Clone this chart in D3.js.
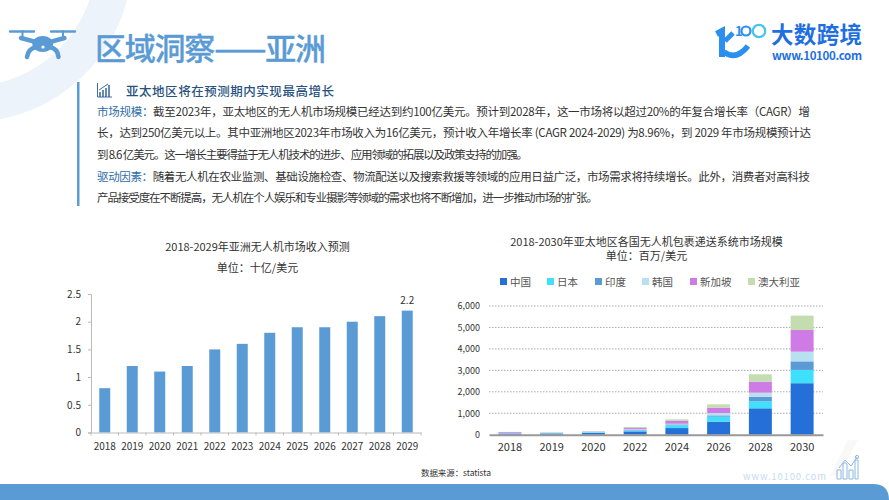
<!DOCTYPE html>
<html><head><meta charset="utf-8">
<script src="https://cdn.jsdelivr.net/npm/d3@7"></script>
<style>html,body{margin:0;padding:0;background:#fff;overflow:hidden}svg{display:block}text{font-family:"Noto Sans CJK SC","Noto Sans",sans-serif}</style>
</head><body><svg id="c" width="889" height="500"></svg>
<script>
const pageTitle = "区域洞察——亚洲";
const heading = "亚太地区将在预测期内实现最高增长";
const bodyLines = [
 [["市场规模：",1],["截至2023年，亚太地区的无人机市场规模已经达到约100亿美元。预计到2028年，这一市场将以超过20%的年复合增长率（CAGR）增",0]],
 [["长，达到250亿美元以上。其中亚洲地区2023年市场收入为16亿美元，预计收入年增长率 (CAGR 2024-2029) 为8.96%，到 2029 年市场规模预计达",0]],
 [["到 8.6 亿美元。这一增长主要得益于无人机技术的进步、应用领域的拓展以及政策支持的加强。",0]],
 [["驱动因素：",1],["随着无人机在农业监测、基础设施检查、物流配送以及搜索救援等领域的应用日益广泛，市场需求将持续增长。此外，消费者对高科技",0]],
 [["产品接受度在不断提高，无人机在个人娱乐和专业摄影等领域的需求也将不断增加，进一步推动市场的扩张。",0]]
];
const bodyWidths = [713, 714, 431, 713, 501];
const leftTitle = "2018-2029年亚洲无人机市场收入预测";
const leftUnit = "单位：十亿/美元";
const leftYears = ["2018","2019","2020","2021","2022","2023","2024","2025","2026","2027","2028","2029"];
const leftValues = [0.8,1.2,1.1,1.2,1.5,1.6,1.8,1.9,1.9,2.0,2.1,2.2];
const leftTicks = [0,0.5,1,1.5,2,2.5];
const rightTitle = "2018-2030年亚太地区各国无人机包裹递送系统市场规模";
const rightUnit = "单位：百万/美元";
const rightYears = ["2018","2019","2020","2022","2024","2026","2028","2030"];
const countries = ["中国","日本","印度","韩国","新加坡","澳大利亚"];
const china = [50,50,80,155,310,610,1230,2400];
const japan = [10,20,30,45,125,230,325,620];
const india = [10,10,5,20,45,60,215,400];
const korea = [10,15,25,30,30,110,190,450];
const singapore = [40,10,15,60,130,250,510,1010];
const australia = [10,10,15,50,75,155,345,670];
const rightTicks = [0,1000,2000,3000,4000,5000,6000];
const countryColors = ["#2470d8","#3fe0fb","#5b9bd5","#b9e0f0","#cf7be6","#c3dcb0"];
const source = "数据来源：statista";

const BLUE="#5b9bd5", INK="#333";
const svg=d3.select("#c");

// background decoration
svg.append("path").attr("fill","#edf3fa").attr("d",(()=>{
  const p=d3.path(); p.arc(-30,-40,162,0,Math.PI/2); p.arc(-30,-40,126,Math.PI/2,0,true); p.closePath(); return p.toString();
})());
svg.append("path").attr("fill","#f9f8f7").attr("d","M848 440H858L838 476H830Z");
svg.append("path").attr("fill",BLUE).attr("d","M0 484H873Q889 484 889 500H0Z");

// drone icon
const drone=svg.append("g").attr("fill","none").attr("stroke",BLUE).attr("stroke-linecap","round");
drone.append("path").attr("stroke-width",2.4).attr("d","M10 31.5H34M51 31.5H75");
drone.append("path").attr("stroke-width",2).attr("d","M22.5 31V37M63 31V37");
drone.append("path").attr("stroke-width",4.5).attr("d","M21 38L43 44L64.5 38");
drone.append("path").attr("stroke-width",4.5).attr("d","M36 47Q28 49 27 57M50 47Q58 49 58.5 57");
drone.append("ellipse").attr("cx",42.7).attr("cy",44).attr("rx",10.5).attr("ry",8).attr("fill",BLUE).attr("stroke","none");
drone.append("circle").attr("cx",43).attr("cy",47).attr("r",1.6).attr("fill","#fff").attr("stroke","none");

// page title
svg.append("text").attr("x",95).attr("y",60).attr("font-size",31).attr("font-weight",500).attr("fill",BLUE)
  .attr("stroke",BLUE).attr("stroke-width",0.3)
  .attr("textLength",231).attr("lengthAdjust","spacing").text(pageTitle);

// logo
const logo=svg.append("g").attr("fill","none");
logo.append("path").attr("stroke","#2b8ff0").attr("stroke-width",6).attr("d","M716.5 34L722 31V57");
logo.append("path").attr("stroke","#2b8ff0").attr("stroke-width",5).attr("d","M725 41L733 33");
logo.append("path").attr("stroke","#2b8ff0").attr("stroke-width",5.5).attr("d","M724 52Q736 61 748 46");
logo.append("text").attr("x",735).attr("y",36).attr("font-size",13).attr("font-weight",700).attr("fill","#2b8ff0").text("1");
logo.append("circle").attr("cx",746).attr("cy",31).attr("r",4.5).attr("stroke","#2b8ff0").attr("stroke-width",2.2);
logo.append("circle").attr("cx",759).attr("cy",31).attr("r",6.2).attr("stroke","#45c5ee").attr("stroke-width",2.2);
logo.append("text").attr("x",771).attr("y",43).attr("font-size",22.5).attr("font-weight",700).attr("fill","#1f6fe0")
  .attr("textLength",91).attr("lengthAdjust","spacing").text("大数跨境");
logo.append("text").attr("x",772).attr("y",60).attr("font-size",11.5).attr("font-weight",700).attr("fill","#1f6fe0")
  .attr("textLength",90).attr("lengthAdjust","spacing").text("www.10100.com");

// text block
svg.append("rect").attr("x",77).attr("y",82).attr("width",2.5).attr("height",124).attr("fill",BLUE);
const hi=svg.append("g").attr("fill","none").attr("stroke","#3f6f9f").attr("stroke-width",1);
hi.append("path").attr("d","M97.5 83V97H112");
hi.append("path").attr("stroke-width",1.6).attr("d","M100 97V92M103 97V90M106 97V88M109 97V85");
hi.append("path").attr("d","M99 90L108 84");
svg.append("text").attr("x",126).attr("y",96).attr("font-size",12.5).attr("font-weight",500).attr("fill","#27527f")
  .attr("textLength",208).attr("lengthAdjust","spacing").text(heading);
const lineY=[116,137,159,181,202];
bodyLines.forEach((runs,i)=>{
  const t=svg.append("text").attr("x",97).attr("y",lineY[i]).attr("font-size",11.5).attr("fill",INK)
    .attr("textLength",bodyWidths[i]).attr("lengthAdjust","spacing");
  runs.forEach(r=>t.append("tspan").attr("fill",r[1]?"#2f6ea8":INK).text(r[0]));
});

// left chart
const L={x0:91,x1:421,y0:432.5,y1:294};
const lx=d3.scaleBand().domain(leftYears).range([L.x0,L.x1]).paddingInner(0.6).paddingOuter(0.3);
const ly=d3.scaleLinear().domain([0,2.5]).range([L.y0,L.y1]);
svg.append("text").attr("x",257.5).attr("y",251).attr("text-anchor","middle").attr("font-size",11).attr("fill",INK).text(leftTitle);
svg.append("text").attr("x",257.5).attr("y",272).attr("text-anchor","middle").attr("font-size",11).attr("fill",INK).text(leftUnit);
svg.append("g").selectAll("rect").data(leftValues).join("rect")
  .attr("x",(d,i)=>lx(leftYears[i])).attr("width",lx.bandwidth())
  .attr("y",d=>ly(d)).attr("height",d=>ly(0)-ly(d)).attr("fill",BLUE);
const lyAxis=svg.append("g").attr("transform",`translate(${L.x0},0)`)
  .call(d3.axisLeft(ly).tickValues(leftTicks).tickFormat(d=>String(d)).tickSize(3).tickPadding(7));
const lxAxis=svg.append("g").attr("transform",`translate(0,${L.y0})`)
  .call(d3.axisBottom(lx).tickSize(0).tickPadding(10));
const step=(L.x1-L.x0)/leftYears.length;
svg.append("g").selectAll("line").data(d3.range(leftYears.length+1)).join("line")
  .attr("x1",d=>L.x0+d*step).attr("x2",d=>L.x0+d*step).attr("y1",L.y0).attr("y2",L.y0+3).attr("stroke","#bbb");
[lyAxis,lxAxis].forEach(a=>{a.selectAll("path,line").attr("stroke","#bbb");a.selectAll("text").attr("font-size",10).attr("fill",INK);});
svg.append("text").attr("x",lx("2029")+lx.bandwidth()/2).attr("y",ly(2.2)-7).attr("text-anchor","middle")
  .attr("font-size",10).attr("fill",INK).text(String(leftValues[leftValues.length-1]));

// right chart
const R={x0:489,x1:823,y0:434.7,y1:306};
const rx=d3.scaleBand().domain(rightYears).range([R.x0,R.x1]).paddingInner(0.45).paddingOuter(0.225);
const ry=d3.scaleLinear().domain([0,6000]).range([R.y0,R.y1]);
svg.append("text").attr("x",646.5).attr("y",246).attr("text-anchor","middle").attr("font-size",11).attr("fill",INK).text(rightTitle);
svg.append("text").attr("x",646.5).attr("y",260).attr("text-anchor","middle").attr("font-size",11).attr("fill",INK).text(rightUnit);
const legendX=[500,547,595,642,690,748];
countries.forEach((c,i)=>{
  svg.append("rect").attr("x",legendX[i]).attr("y",278).attr("width",7).attr("height",7).attr("fill",countryColors[i]);
  svg.append("text").attr("x",legendX[i]+10).attr("y",286).attr("font-size",10.5).attr("fill","#555").text(c);
});
const ryAxis=svg.append("g").attr("transform",`translate(${R.x0},0)`)
  .call(d3.axisLeft(ry).tickValues(rightTicks).tickFormat(d3.format(",")).tickSize(0).tickPadding(9));
ryAxis.select("path").remove();
ryAxis.selectAll("text").attr("font-size",9).attr("fill",INK);
svg.append("g").selectAll("line").data(rightTicks.slice(1)).join("line")
  .attr("x1",R.x0).attr("x2",R.x1).attr("y1",d=>ry(d)).attr("y2",d=>ry(d))
  .attr("stroke","#aaa").attr("stroke-dasharray","1.5 1.5");
const table=rightYears.map((y,i)=>({year:y,"中国":china[i],"日本":japan[i],"印度":india[i],"韩国":korea[i],"新加坡":singapore[i],"澳大利亚":australia[i]}));
const stacked=d3.stack().keys(countries)(table);
svg.append("g").selectAll("g").data(stacked).join("g").attr("fill",(d,i)=>countryColors[i])
  .selectAll("rect").data(d=>d).join("rect")
  .attr("x",d=>rx(d.data.year)).attr("width",rx.bandwidth())
  .attr("y",d=>ry(d[1])).attr("height",d=>ry(d[0])-ry(d[1]));
const rxAxis=svg.append("g").attr("transform",`translate(0,${R.y0})`)
  .call(d3.axisBottom(rx).tickSize(0).tickPadding(9));
rxAxis.select("path").attr("stroke","#999").attr("stroke-width",2);
rxAxis.selectAll("text").attr("font-size",11).attr("fill",INK);

// footer
svg.append("text").attr("x",421).attr("y",476).attr("font-size",8.5).attr("fill",INK)
  .attr("textLength",70).attr("lengthAdjust","spacing").text(source);
svg.append("text").attr("x",743).attr("y",480).attr("font-size",9.5).attr("fill","#c7dbef")
  .attr("textLength",83).attr("lengthAdjust","spacing").text("www.10100.com");
const ic=svg.append("g").attr("fill","none").attr("stroke","#8db8e0").attr("stroke-width",1);
ic.append("path").attr("d","M837 470h4v9h-4zM843 464q2-3 4 0v15h-4zM849 470h4v9h-4zM855 460h3v19h-3z");
ic.append("path").attr("d","M839 468L845 460L851 466L857 457");
ic.append("circle").attr("cx",857).attr("cy",457).attr("r",1.6);
</script></body></html>
